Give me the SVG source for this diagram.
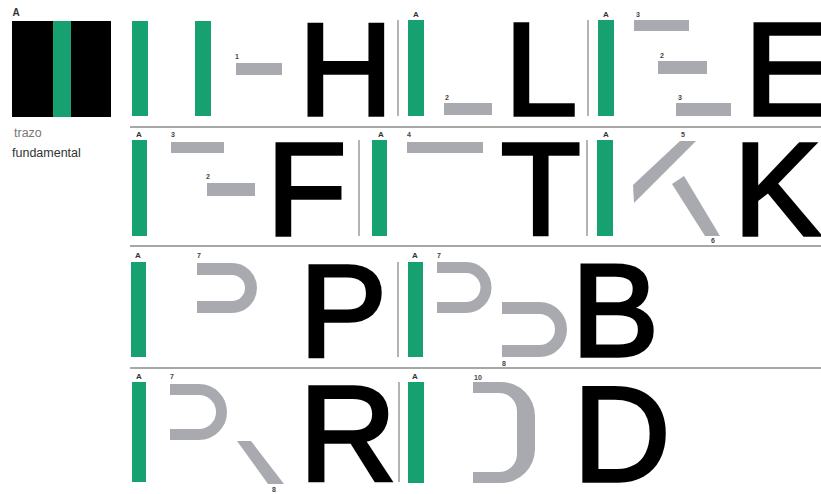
<svg xmlns="http://www.w3.org/2000/svg" width="821" height="494" viewBox="0 0 821 494">
<style>
.g{fill:#17a070}
.s{fill:#a9a9b0}
.sl{fill:none;stroke:#a9a9b0}
.big{font-family:"Liberation Sans",Arial,sans-serif;font-size:131px;fill:#000;stroke:#000;stroke-width:3.5;stroke-linejoin:miter}
.big4{font-size:135px}
.a{font-family:"Liberation Sans",Arial,sans-serif;font-size:8px;font-weight:bold;fill:#333;text-anchor:middle}
.n{font-family:"Liberation Sans",Arial,sans-serif;font-size:7px;font-weight:bold;fill:#444;text-anchor:middle}
.rule{stroke:#8a8a8a;stroke-width:1.5}
.sep{stroke:#8a8a8a;stroke-width:1.3}
.cap{font-family:"Liberation Sans",Arial,sans-serif;font-size:12.5px;fill:#555}
</style>
<rect width="821" height="494" fill="#fff"/>
<g id="rules">
<line class="rule" x1="130" y1="127" x2="821" y2="127"/>
<line class="rule" x1="130" y1="246" x2="821" y2="246"/>
<line class="rule" x1="130" y1="368" x2="821" y2="368"/>
<line class="sep" x1="398" y1="20" x2="398" y2="116"/>
<line class="sep" x1="588" y1="20" x2="588" y2="116"/>
<line class="sep" x1="359" y1="140" x2="359" y2="236"/>
<line class="sep" x1="587" y1="140" x2="587" y2="236"/>
<line class="sep" x1="398" y1="262" x2="398" y2="357"/>
<line class="sep" x1="399" y1="382" x2="399" y2="482"/>
</g>
<g id="trazo-fundamental">
<text class="a" x="16" y="16" style="font-size:10px">A</text>
<rect x="12" y="21" width="99" height="96" fill="#000"/>
<rect class="g" x="53" y="21" width="18" height="96"/>
<text class="cap" x="14" y="137" style="fill:#777">trazo</text>
<text class="cap" x="12" y="157" style="fill:#333">fundamental</text>
</g>
<g id="row-H">
<rect class="g" x="132" y="21" width="16" height="95"/>
<rect class="g" x="195" y="21" width="16" height="95"/>
<text class="n" x="237" y="59">1</text>
<rect class="s" x="236" y="63" width="46" height="12"/>
<text class="big" x="298.5" y="114.5">H</text>
</g>
<g id="row-L">
<text class="a" x="416" y="17">A</text>
<rect class="g" x="408" y="20" width="16" height="96"/>
<text class="n" x="447" y="100">2</text>
<rect class="s" x="444" y="103" width="48" height="12"/>
<text class="big" x="504.5" y="114.5">L</text>
</g>
<g id="row-E">
<text class="a" x="606" y="17">A</text>
<rect class="g" x="598" y="20" width="16" height="96"/>
<text class="n" x="638" y="17">3</text>
<rect class="s" x="634" y="20" width="55" height="11"/>
<text class="n" x="662" y="58">2</text>
<rect class="s" x="658" y="61" width="49" height="13"/>
<text class="n" x="680" y="100">3</text>
<rect class="s" x="676" y="103" width="55" height="13"/>
<text class="big" x="744.5" y="114.5">E</text>
</g>
<g id="row-F">
<text class="a" x="139" y="137">A</text>
<rect class="g" x="132" y="140" width="15" height="96"/>
<text class="n" x="173" y="137">3</text>
<rect class="s" x="171" y="142" width="53" height="11"/>
<text class="n" x="208" y="179">2</text>
<rect class="s" x="207" y="183" width="48" height="13"/>
<text class="big" x="266.5" y="234.5">F</text>
</g>
<g id="row-T">
<text class="a" x="381" y="137">A</text>
<rect class="g" x="372" y="140" width="15" height="96"/>
<text class="n" x="409" y="137">4</text>
<rect class="s" x="407" y="142" width="76" height="11"/>
<text class="big" x="500.7" y="234.5">T</text>
</g>
<g id="row-K">
<text class="a" x="606" y="137">A</text>
<rect class="g" x="597" y="140" width="16" height="96"/>
<text class="n" x="683" y="137">5</text>
<polygon class="s" points="680,141 696,141 634,203 633,185"/>
<polygon class="s" points="672,184 684,176 720,236 705,236"/>
<text class="n" x="713" y="243">6</text>
<text class="big" x="733.5" y="234.5">K</text>
</g>
<g id="row-P">
<text class="a" x="138" y="258">A</text>
<rect class="g" x="131" y="262" width="15" height="95"/>
<text class="n" x="199" y="258">7</text>
<path class="sl" stroke-width="12" d="M197 269 H232 A19 19 0 0 1 232 307 H197"/>
<text class="big" x="299.5" y="355.5">P</text>
</g>
<g id="row-B">
<text class="a" x="415" y="258">A</text>
<rect class="g" x="408" y="262" width="15" height="95"/>
<text class="n" x="439" y="258">7</text>
<path class="sl" stroke-width="11" d="M437 267.5 H466 A20 20 0 0 1 466 307.5 H437"/>
<path class="sl" stroke-width="12" d="M502 308 H539.5 A21.5 21.5 0 0 1 539.5 351 H502"/>
<text class="n" x="504" y="366">8</text>
<text class="big" x="571.5" y="355.5">B</text>
</g>
<g id="row-R">
<text class="a" x="139" y="379">A</text>
<rect class="g" x="132" y="382" width="14" height="100"/>
<text class="n" x="172" y="379">7</text>
<path class="sl" stroke-width="11" d="M170 389.5 H199 A22.5 22.5 0 0 1 199 434.5 H170"/>
<polygon class="s" points="237,441 251,441 284,484 268,484"/>
<text class="n" x="274" y="492">8</text>
<text class="big big4" x="299" y="480.5">R</text>
</g>
<g id="row-D">
<text class="a" x="415" y="379">A</text>
<rect class="g" x="408" y="382" width="16" height="101"/>
<text class="n" x="478" y="380">10</text>
<path class="s" d="M473 382 H501 A34 34 0 0 1 535 416 V449 A34 34 0 0 1 501 483 H473 V472 H499 A18 18 0 0 0 517 454 V411 A18 18 0 0 0 499 393 H473 Z"/>
<text class="big big4" x="573" y="480.5">D</text>
</g>
</svg>
